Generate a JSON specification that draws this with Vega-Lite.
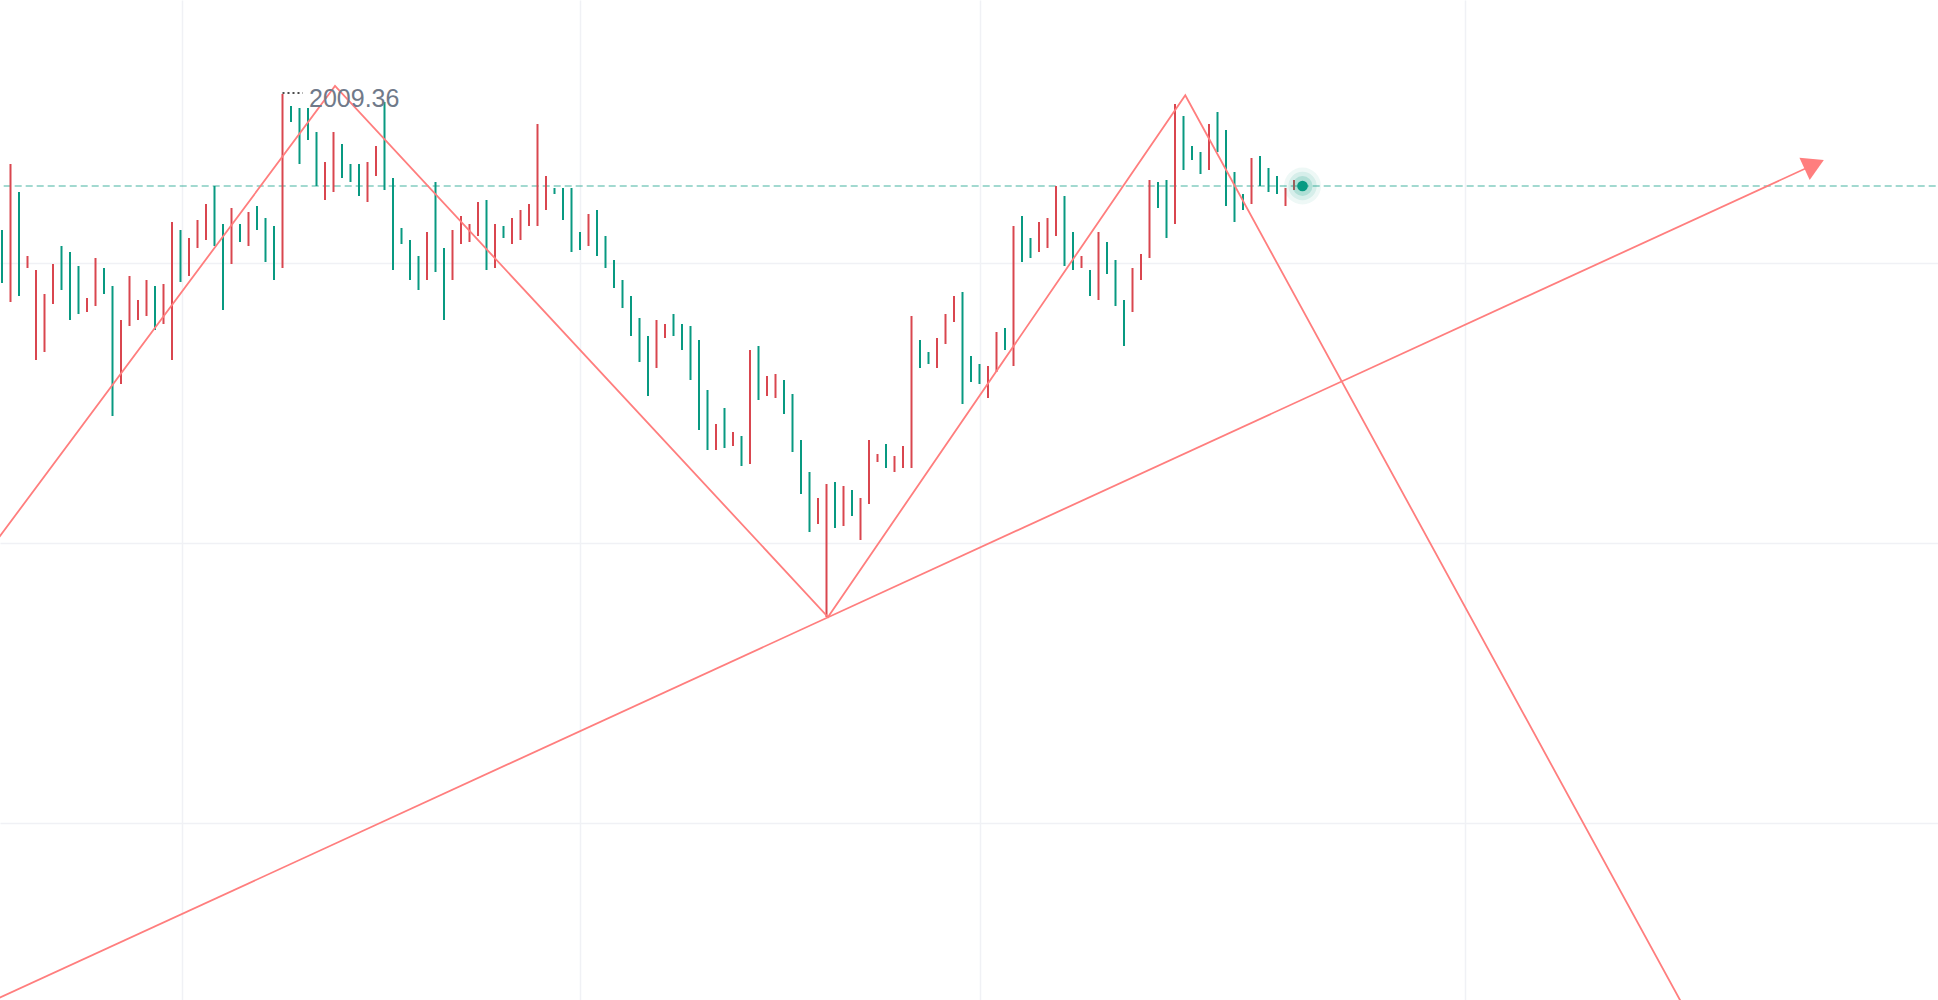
{
  "$schema": "https://vega.github.io/schema/vega-lite/v6.json",
  "width": 1938,
  "height": 1000,
  "autosize": {"type": "none"},
  "padding": 0,
  "background": "#ffffff",
  "config": {"view": {"stroke": null}},
  "datasets": {
    "candles": [
      {"idx":0,"v":1995.76,"v2":1990.46},{"idx":1,"v":1988.56,"v2":2002.36},{"idx":2,"v":1999.56,"v2":1989.16},{"idx":3,"v":1991.96,"v2":1993.16},
      {"idx":4,"v":1982.76,"v2":1991.76},{"idx":5,"v":1983.56,"v2":1989.36},{"idx":6,"v":1988.36,"v2":1992.36},{"idx":7,"v":1994.16,"v2":1989.76},
      {"idx":8,"v":1993.56,"v2":1986.76},{"idx":9,"v":1992.16,"v2":1987.36},{"idx":10,"v":1987.56,"v2":1988.96},{"idx":11,"v":1988.16,"v2":1992.96},
      {"idx":12,"v":1991.96,"v2":1989.36},{"idx":13,"v":1990.16,"v2":1977.16},{"idx":14,"v":1980.36,"v2":1986.76},{"idx":15,"v":1986.16,"v2":1991.16},
      {"idx":16,"v":1986.76,"v2":1988.76},{"idx":17,"v":1987.16,"v2":1990.76},{"idx":18,"v":1990.16,"v2":1985.76},{"idx":19,"v":1986.36,"v2":1990.36},
      {"idx":20,"v":1982.76,"v2":1996.56},{"idx":21,"v":1995.76,"v2":1990.56},{"idx":22,"v":1991.16,"v2":1994.96},{"idx":23,"v":1993.96,"v2":1996.76},
      {"idx":24,"v":1994.76,"v2":1998.36},{"idx":25,"v":2000.16,"v2":1994.16},{"idx":26,"v":1996.36,"v2":1987.76},{"idx":27,"v":1992.36,"v2":1997.96},
      {"idx":28,"v":1996.36,"v2":1994.56},{"idx":29,"v":1994.16,"v2":1997.56},{"idx":30,"v":1998.16,"v2":1995.76},{"idx":31,"v":1996.96,"v2":1992.56},
      {"idx":32,"v":1996.16,"v2":1990.76},{"idx":33,"v":1991.96,"v2":2009.36},{"idx":34,"v":2008.16,"v2":2006.56},{"idx":35,"v":2007.96,"v2":2002.36},
      {"idx":36,"v":2007.96,"v2":2004.76},{"idx":37,"v":2005.56,"v2":2000.16},{"idx":38,"v":1998.76,"v2":2002.56},{"idx":39,"v":1999.56,"v2":2005.56},
      {"idx":40,"v":2004.36,"v2":2000.96},{"idx":41,"v":2002.36,"v2":2000.56},{"idx":42,"v":2002.36,"v2":1999.16},{"idx":43,"v":1998.56,"v2":2002.56},
      {"idx":44,"v":2001.16,"v2":2004.16},{"idx":45,"v":2008.56,"v2":1999.76},{"idx":46,"v":2000.96,"v2":1991.76},{"idx":47,"v":1995.96,"v2":1994.36},
      {"idx":48,"v":1994.76,"v2":1990.76},{"idx":49,"v":1993.16,"v2":1989.76},{"idx":50,"v":1990.76,"v2":1995.56},{"idx":51,"v":2000.56,"v2":1991.56},
      {"idx":52,"v":1993.96,"v2":1986.76},{"idx":53,"v":1990.76,"v2":1995.76},{"idx":54,"v":1994.36,"v2":1997.16},{"idx":55,"v":1994.56,"v2":1996.36},
      {"idx":56,"v":1995.16,"v2":1998.56},{"idx":57,"v":1998.76,"v2":1991.76},{"idx":58,"v":1991.96,"v2":1996.36},{"idx":59,"v":1996.16,"v2":1994.96},
      {"idx":60,"v":1994.36,"v2":1996.96},{"idx":61,"v":1994.76,"v2":1997.76},{"idx":62,"v":1996.16,"v2":1998.36},{"idx":63,"v":1996.16,"v2":2006.36},
      {"idx":64,"v":1997.76,"v2":2001.16},{"idx":65,"v":1999.96,"v2":1999.36},{"idx":66,"v":1999.96,"v2":1996.76},{"idx":67,"v":1999.96,"v2":1993.56},
      {"idx":68,"v":1995.56,"v2":1993.76},{"idx":69,"v":1994.16,"v2":1997.36},{"idx":70,"v":1997.76,"v2":1993.16},{"idx":71,"v":1995.16,"v2":1991.96},
      {"idx":72,"v":1992.76,"v2":1989.96},{"idx":73,"v":1990.76,"v2":1987.96},{"idx":74,"v":1989.16,"v2":1985.16},{"idx":75,"v":1986.96,"v2":1982.56},
      {"idx":76,"v":1985.16,"v2":1979.16},{"idx":77,"v":1981.96,"v2":1986.76},{"idx":78,"v":1984.96,"v2":1986.36},{"idx":79,"v":1987.36,"v2":1985.16},
      {"idx":80,"v":1986.36,"v2":1983.76},{"idx":81,"v":1986.16,"v2":1980.76},{"idx":82,"v":1984.76,"v2":1975.76},{"idx":83,"v":1979.76,"v2":1973.76},
      {"idx":84,"v":1973.76,"v2":1976.36},{"idx":85,"v":1977.96,"v2":1973.96},{"idx":86,"v":1974.16,"v2":1975.56},{"idx":87,"v":1975.16,"v2":1972.16},
      {"idx":88,"v":1972.36,"v2":1983.76},{"idx":89,"v":1984.16,"v2":1978.76},{"idx":90,"v":1979.16,"v2":1981.16},{"idx":91,"v":1978.96,"v2":1981.36},
      {"idx":92,"v":1980.76,"v2":1977.36},{"idx":93,"v":1979.36,"v2":1973.56},{"idx":94,"v":1974.76,"v2":1969.36},{"idx":95,"v":1971.56,"v2":1965.56},
      {"idx":96,"v":1966.36,"v2":1968.96},{"idx":97,"v":1957.06,"v2":1970.36},{"idx":98,"v":1970.56,"v2":1965.96},{"idx":99,"v":1966.16,"v2":1970.16},
      {"idx":100,"v":1969.76,"v2":1967.16},{"idx":101,"v":1964.76,"v2":1968.96},{"idx":102,"v":1968.36,"v2":1974.76},{"idx":103,"v":1972.56,"v2":1973.36},
      {"idx":104,"v":1974.36,"v2":1971.96},{"idx":105,"v":1971.56,"v2":1973.16},{"idx":106,"v":1971.96,"v2":1974.16},{"idx":107,"v":1971.96,"v2":1987.16},
      {"idx":108,"v":1984.76,"v2":1981.96},{"idx":109,"v":1983.56,"v2":1982.36},{"idx":110,"v":1981.96,"v2":1984.96},{"idx":111,"v":1984.36,"v2":1987.36},
      {"idx":112,"v":1986.56,"v2":1989.16},{"idx":113,"v":1989.56,"v2":1978.36},{"idx":114,"v":1983.16,"v2":1980.56},{"idx":115,"v":1982.36,"v2":1980.36},
      {"idx":116,"v":1978.96,"v2":1982.16},{"idx":117,"v":1981.56,"v2":1985.56},{"idx":118,"v":1985.96,"v2":1983.76},{"idx":119,"v":1982.16,"v2":1996.16},
      {"idx":120,"v":1997.16,"v2":1992.56},{"idx":121,"v":1994.96,"v2":1992.96},{"idx":122,"v":1993.56,"v2":1996.56},{"idx":123,"v":1993.96,"v2":1996.96},
      {"idx":124,"v":1995.16,"v2":2000.16},{"idx":125,"v":1999.16,"v2":1992.16},{"idx":126,"v":1995.56,"v2":1991.76},{"idx":127,"v":1991.96,"v2":1993.16},
      {"idx":128,"v":1991.76,"v2":1989.16},{"idx":129,"v":1988.76,"v2":1995.56},{"idx":130,"v":1994.56,"v2":1991.36},{"idx":131,"v":1992.76,"v2":1988.16},
      {"idx":132,"v":1988.76,"v2":1984.16},{"idx":133,"v":1987.56,"v2":1991.96},{"idx":134,"v":1990.76,"v2":1993.36},{"idx":135,"v":1992.96,"v2":2000.76},
      {"idx":136,"v":2000.56,"v2":1997.96},{"idx":137,"v":2000.76,"v2":1994.96},{"idx":138,"v":1996.36,"v2":2008.36},{"idx":139,"v":2007.16,"v2":2001.76},
      {"idx":140,"v":2004.16,"v2":2002.76},{"idx":141,"v":2003.56,"v2":2001.36},{"idx":142,"v":2001.76,"v2":2006.36},{"idx":143,"v":2007.56,"v2":2003.56},
      {"idx":144,"v":2005.76,"v2":1998.16},{"idx":145,"v":2001.56,"v2":1996.56},{"idx":146,"v":1999.36,"v2":1997.76},{"idx":147,"v":1998.36,"v2":2002.96},
      {"idx":148,"v":2003.16,"v2":2000.16},{"idx":149,"v":2001.96,"v2":1999.56},{"idx":150,"v":2001.16,"v2":1999.36},{"idx":151,"v":1998.16,"v2":1999.96},
      {"idx":152,"v":1999.76,"v2":2000.76}
    ],
    "drawings": [
      {"seg":"zig","k":0,"idx":-1.41,"v":1963.82},
      {"seg":"zig","k":1,"idx":39.18,"v":2010.16},
      {"seg":"zig","k":2,"idx":97.18,"v":1957.06},
      {"seg":"zig","k":3,"idx":139.21,"v":2009.23},
      {"seg":"zig","k":4,"idx":198.7,"v":1916.76},
      {"seg":"trend","k":0,"idx":-2.59,"v":1918.09},
      {"seg":"trend","k":1,"idx":213.2,"v":2002.31}
    ],
    "arrow": [{"idx":213.2,"v":2002.31}],
    "last": [{"idx":153,"v":2000.16}],
    "hline": [{"idx":0.2,"idx2":227.7,"v":2000.16}],
    "hiMark": [{"idx":33.0,"idx2":35.4,"v":2009.46}],
    "hiLabel": [{"idx":36.12,"v":2008.86,"label":"2009.36"}]
  },
  "encoding": {
    "x": {"field": "idx", "type": "quantitative",
          "scale": {"domain": [-0.2353, 227.7647], "nice": false, "zero": false},
          "axis": {"values": [21.18, 68.0, 115.06, 172.12], "labels": false, "ticks": false, "domain": false, "grid": true, "gridColor": "#F0F1F5", "gridWidth": 1.5, "title": null}},
    "y": {"field": "v", "type": "quantitative",
          "scale": {"domain": [1918.76, 2018.76], "nice": false, "zero": false},
          "axis": {"values": [1992.46, 1964.46, 1936.46], "labels": false, "ticks": false, "domain": false, "grid": true, "gridColor": "#F0F1F5", "gridWidth": 1.5, "title": null}}
  },
  "layer": [
    {
      "data": {"name": "hline"},
      "mark": {"type": "rule", "strokeWidth": 1.5, "strokeDash": [7, 4], "color": "#089981", "opacity": 0.5},
      "encoding": {"x2": {"field": "idx2"}}
    },
    {
      "data": {"name": "candles"},
      "mark": {"type": "rule", "strokeWidth": 2, "strokeCap": "butt"},
      "encoding": {
        "y2": {"field": "v2"},
        "color": {"condition": {"test": "datum.v2 > datum.v", "value": "#D9464F"}, "value": "#089981"}
      }
    },
    {
      "data": {"name": "drawings"},
      "mark": {"type": "line", "strokeWidth": 1.8, "color": "#FF7E7E", "clip": true},
      "encoding": {
        "detail": {"field": "seg"},
        "order": {"field": "k"}
      }
    },
    {
      "data": {"name": "arrow"},
      "mark": {"type": "point", "shape": "triangle-up", "filled": true, "size": 600, "angle": 65.3, "color": "#FF7E7E", "opacity": 1}
    },
    {
      "data": {"name": "hiMark"},
      "mark": {"type": "rule", "strokeWidth": 1.5, "strokeDash": [2, 3], "color": "#111111"},
      "encoding": {"x2": {"field": "idx2"}}
    },
    {
      "data": {"name": "hiLabel"},
      "mark": {"type": "text", "align": "left", "baseline": "middle", "font": "Liberation Sans", "fontSize": 25, "color": "#707A8A"},
      "encoding": {"text": {"field": "label"}}
    },
    {
      "data": {"name": "last"},
      "mark": {"type": "point", "shape": "circle", "filled": true, "size": 1369, "color": "#089981", "opacity": 0.07}
    },
    {
      "data": {"name": "last"},
      "mark": {"type": "point", "shape": "circle", "filled": true, "size": 800, "color": "#089981", "opacity": 0.1}
    },
    {
      "data": {"name": "last"},
      "mark": {"type": "point", "shape": "circle", "filled": true, "size": 400, "color": "#089981", "opacity": 0.18}
    },
    {
      "data": {"name": "last"},
      "mark": {"type": "point", "shape": "circle", "filled": true, "size": 115, "color": "#079A82", "opacity": 1}
    }
  ]
}
